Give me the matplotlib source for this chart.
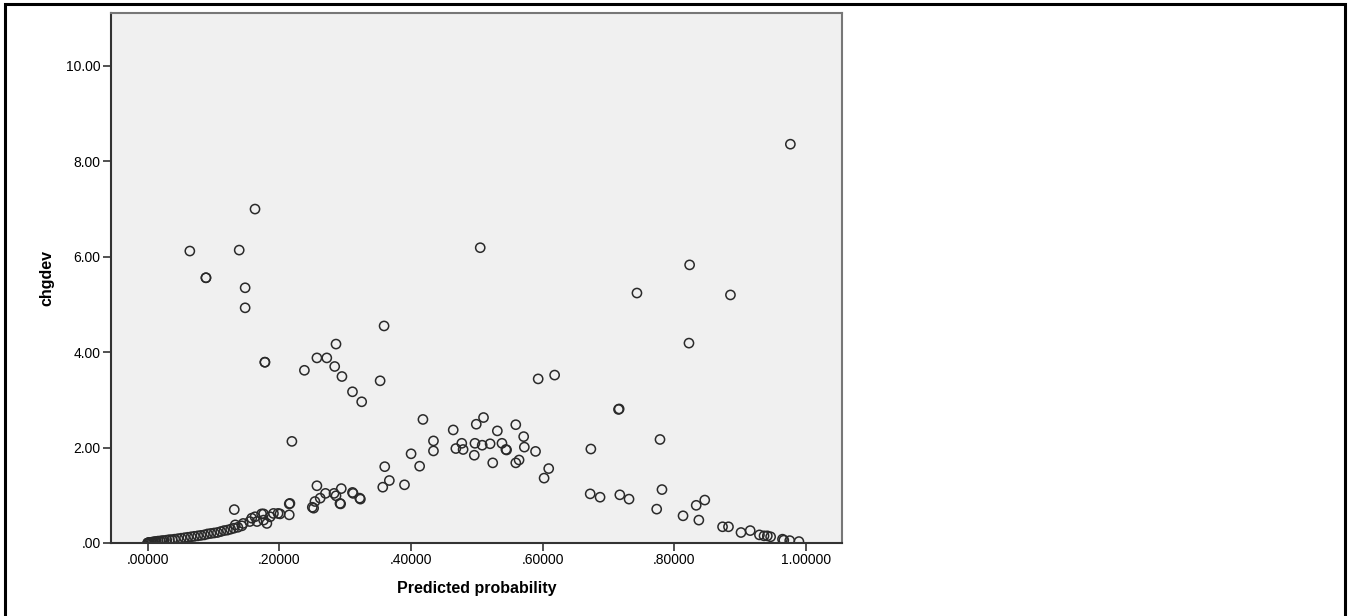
import matplotlib
matplotlib.use('Agg')
import matplotlib.pyplot as plt
from matplotlib.patches import Rectangle
from matplotlib.ticker import FuncFormatter

plt.rcParams['font.family'] = ['Liberation Sans', 'DejaVu Sans']

# points (predicted probability, change in deviance)
pred_prob = [
    # dense chain near zero
    0.000, 0.000, 0.001, 0.002, 0.003, 0.005, 0.007, 0.009, 0.011, 0.013,
    0.016, 0.019, 0.022, 0.025, 0.029, 0.033, 0.037, 0.041, 0.046, 0.051,
    0.056, 0.061, 0.066, 0.071, 0.076, 0.081, 0.086, 0.091, 0.096, 0.101,
    0.106, 0.111, 0.116, 0.121, 0.126, 0.131, 0.137, 0.143,
    # lower band
    0.1315, 0.133, 0.145, 0.155, 0.158, 0.163, 0.166, 0.173, 0.176, 0.176,
    0.181, 0.186, 0.191, 0.198, 0.201, 0.215, 0.215, 0.216, 0.219, 0.250,
    0.252, 0.254, 0.257, 0.262, 0.270, 0.283, 0.286, 0.292, 0.293, 0.294,
    0.311, 0.312, 0.322, 0.323, 0.357, 0.367, 0.360, 0.390, 0.400, 0.413,
    0.418, 0.434, 0.434, 0.464, 0.468, 0.477, 0.479, 0.496, 0.497, 0.499,
    0.508, 0.510, 0.520, 0.524, 0.531, 0.538, 0.544, 0.545, 0.559, 0.559,
    0.564, 0.571, 0.572, 0.589, 0.602, 0.609, 0.593, 0.618, 0.672, 0.673,
    0.687, 0.715, 0.716, 0.717, 0.731, 0.743, 0.773, 0.778, 0.781, 0.813,
    0.822, 0.823, 0.833, 0.837, 0.846, 0.873, 0.882, 0.885, 0.901, 0.915,
    0.929, 0.936, 0.941, 0.946, 0.964, 0.966, 0.975, 0.976, 0.989,
    # upper left group
    0.064, 0.0885, 0.0885, 0.139, 0.148, 0.148, 0.163, 0.178, 0.178, 0.238,
    0.257, 0.272, 0.284, 0.286, 0.295, 0.311, 0.325, 0.353, 0.359, 0.505,
]
chgdev = [
    0.00, 0.00, 0.00, 0.01, 0.01, 0.01, 0.02, 0.02, 0.03, 0.03,
    0.04, 0.04, 0.05, 0.05, 0.06, 0.07, 0.07, 0.08, 0.09, 0.10,
    0.11, 0.12, 0.13, 0.14, 0.15, 0.16, 0.17, 0.19, 0.20, 0.21,
    0.22, 0.24, 0.26, 0.27, 0.29, 0.31, 0.33, 0.36,
    0.70, 0.38, 0.41, 0.45, 0.52, 0.55, 0.45, 0.61, 0.48, 0.61,
    0.41, 0.55, 0.62, 0.62, 0.61, 0.59, 0.82, 0.83, 2.13, 0.75,
    0.73, 0.87, 1.20, 0.94, 1.04, 1.04, 0.99, 0.83, 0.82, 1.14,
    1.06, 1.04, 0.94, 0.92, 1.17, 1.31, 1.60, 1.22, 1.87, 1.61,
    2.59, 2.14, 1.93, 2.37, 1.98, 2.09, 1.96, 1.84, 2.09, 2.49,
    2.05, 2.63, 2.08, 1.68, 2.35, 2.09, 1.96, 1.95, 2.48, 1.68,
    1.74, 2.23, 2.01, 1.92, 1.36, 1.56, 3.44, 3.52, 1.03, 1.97,
    0.96, 2.80, 2.81, 1.01, 0.92, 5.24, 0.71, 2.17, 1.12, 0.57,
    4.19, 5.83, 0.79, 0.48, 0.90, 0.34, 0.34, 5.20, 0.22, 0.26,
    0.17, 0.15, 0.15, 0.13, 0.08, 0.06, 0.05, 8.36, 0.03,
    6.12, 5.56, 5.56, 6.14, 5.35, 4.93, 7.00, 3.79, 3.79, 3.62,
    3.88, 3.88, 3.70, 4.17, 3.49, 3.17, 2.96, 3.40, 4.55, 6.19,
]

x_ticks = [0.0, 0.2, 0.4, 0.6, 0.8, 1.0]
y_ticks = [0, 2, 4, 6, 8, 10]

fig = plt.figure(figsize=(13.5, 6.16), dpi=100)
ax = fig.add_axes([111 / 1350, 1 - 543 / 616, (842 - 111) / 1350, (543 - 13) / 616])
ax.set_facecolor('#f0f0f0')

ax.scatter(pred_prob, chgdev, s=44, facecolors='none', edgecolors='#2a2a2a', linewidths=1.1)

ax.set_xlim(-0.0557, 1.0544)
ax.set_ylim(0, 11.11)
ax.set_xticks(x_ticks)
ax.set_yticks(y_ticks)
ax.xaxis.set_major_formatter(FuncFormatter(lambda v, p: ('%.5f' % v).lstrip('0') if v < 1 else '%.5f' % v))
ax.yaxis.set_major_formatter(FuncFormatter(lambda v, p: ('%.2f' % v).lstrip('0') if v < 1 else '%.2f' % v))
ax.tick_params(axis='both', length=6, width=1.2, color='#333333', labelsize=10, pad=1.5)

for side in ['top', 'right']:
    ax.spines[side].set_color('#777777')
    ax.spines[side].set_linewidth(1.5)
for side in ['left', 'bottom']:
    ax.spines[side].set_color('#333333')
    ax.spines[side].set_linewidth(1.5)

ax.set_xlabel('Predicted probability', fontsize=11.5, fontweight='bold', labelpad=10)
ax.set_ylabel('chgdev', fontsize=11.5, fontweight='bold', labelpad=8)

# outer frame
fig.add_artist(Rectangle((4.5 / 1350, -0.1), (1345 - 4.5) / 1350, 1.1 - 4.5 / 616,
                         transform=fig.transFigure, fill=False, lw=2.2, ec='black'))

fig.savefig('out.png', dpi=100)
